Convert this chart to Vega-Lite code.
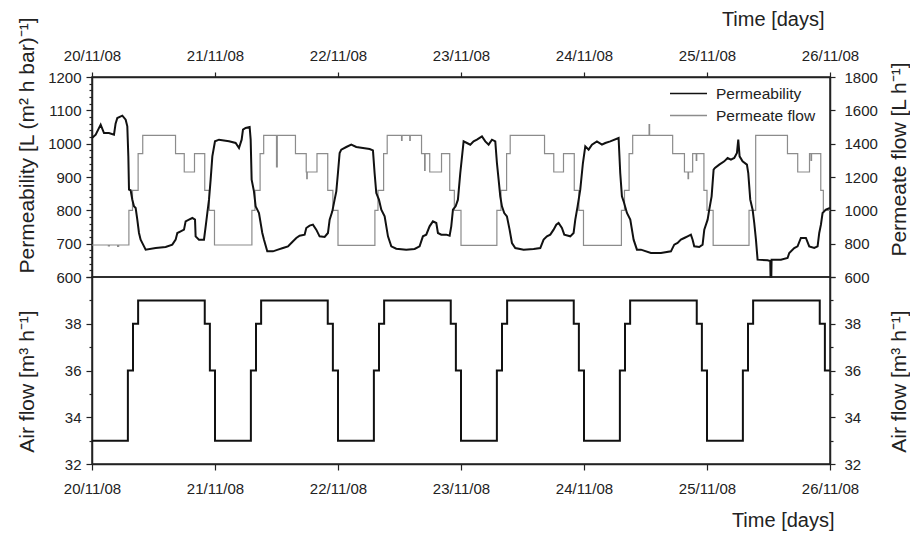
{
  "$schema": "https://vega.github.io/schema/vega-lite/v6.json",
  "background": "white",
  "padding": {"left": 15, "top": 8, "right": 0, "bottom": 0},
  "spacing": 0,
  "bounds": "flush",
  "config": {
    "font": "Liberation Sans",
    "view": {"stroke": "#222", "strokeWidth": 1.5},
    "axis": {
      "labelFont": "Liberation Sans", "labelFontSize": 15, "labelColor": "#222",
      "titleFont": "Liberation Sans", "titleFontSize": 20, "titleFontWeight": "normal", "titleColor": "#222",
      "domainColor": "#222", "domainWidth": 1.5, "tickColor": "#222", "tickWidth": 1.2,
      "grid": false, "labelOverlap": false, "labelFlush": false
    }
  },
  "datasets": {
    "perm": [
      {"h":0,"v":1017},{"h":0.72,"v":1027},{"h":1.69,"v":1057},{"h":2.34,"v":1032},{"h":3.3,"v":1032},{"h":4.29,"v":1027},{"h":4.6,"v":1060},{"h":4.94,"v":1077},{"h":5.92,"v":1084},{"h":6.57,"v":1072},{"h":6.89,"v":1052},{"h":7.09,"v":962},{"h":7.22,"v":862},{"h":7.54,"v":860},{"h":7.87,"v":832},{"h":8.19,"v":812},{"h":8.52,"v":807},{"h":8.84,"v":772},{"h":9.17,"v":732},{"h":9.49,"v":712},{"h":10.15,"v":692},{"h":10.47,"v":682},{"h":12.42,"v":687},{"h":14.37,"v":690},{"h":15.67,"v":697},{"h":16.32,"v":712},{"h":16.65,"v":732},{"h":17.3,"v":737},{"h":17.95,"v":742},{"h":18.27,"v":767},{"h":18.92,"v":772},{"h":19.58,"v":777},{"h":20.1,"v":772},{"h":20.22,"v":722},{"h":20.87,"v":712},{"h":21.85,"v":712},{"h":22.18,"v":752},{"h":22.5,"v":792},{"h":22.83,"v":832},{"h":23.15,"v":892},{"h":23.48,"v":962},{"h":24.0,"v":1007},{"h":24.78,"v":1012},{"h":26.73,"v":1007},{"h":28.03,"v":1002},{"h":28.68,"v":987},{"h":29.2,"v":1012},{"h":29.46,"v":1042},{"h":29.98,"v":1047},{"h":30.76,"v":1050},{"h":30.96,"v":1012},{"h":31.15,"v":892},{"h":31.6,"v":857},{"h":31.93,"v":812},{"h":32.25,"v":802},{"h":32.58,"v":792},{"h":33.23,"v":732},{"h":33.56,"v":712},{"h":34.2,"v":677},
      {"h":35.31,"v":677},{"h":36.29,"v":682},{"h":37.26,"v":687},{"h":38.24,"v":692},{"h":38.89,"v":702},{"h":39.86,"v":717},{"h":40.51,"v":724},{"h":41.49,"v":727},{"h":41.81,"v":747},{"h":42.46,"v":754},{"h":43.11,"v":757},{"h":43.76,"v":742},{"h":44.41,"v":722},{"h":45.39,"v":720},{"h":46.04,"v":732},{"h":46.37,"v":772},{"h":46.89,"v":797},{"h":47.34,"v":832},{"h":47.67,"v":857},{"h":47.99,"v":912},{"h":48.32,"v":972},{"h":48.64,"v":982},{"h":49.62,"v":990},{"h":50.59,"v":997},{"h":51.57,"v":990},{"h":52.87,"v":987},{"h":54.17,"v":984},{"h":54.82,"v":980},{"h":55.14,"v":912},{"h":55.47,"v":852},{"h":55.99,"v":832},{"h":56.45,"v":802},{"h":57.1,"v":782},{"h":57.75,"v":722},{"h":58.4,"v":692},{"h":59.37,"v":685},{"h":61.32,"v":682},{"h":62.95,"v":684},{"h":63.92,"v":692},{"h":64.57,"v":722},{"h":65.22,"v":727},{"h":65.87,"v":752},{"h":66.52,"v":767},{"h":67.18,"v":762},{"h":67.5,"v":732},{"h":68.15,"v":727},{"h":69.13,"v":727},{"h":69.78,"v":724},{"h":70.1,"v":752},{"h":70.43,"v":802},{"h":70.95,"v":812},{"h":71.4,"v":832},
      {"h":71.86,"v":912},{"h":72.51,"v":1007},{"h":73.16,"v":1002},{"h":73.81,"v":997},{"h":74.46,"v":1007},{"h":75.11,"v":1012},{"h":76.09,"v":1022},{"h":76.74,"v":1007},{"h":77.39,"v":997},{"h":78.04,"v":1012},{"h":78.69,"v":1007},{"h":79.01,"v":942},{"h":79.34,"v":892},{"h":79.66,"v":842},{"h":79.99,"v":812},{"h":80.44,"v":792},{"h":80.96,"v":782},{"h":81.48,"v":742},{"h":81.94,"v":702},{"h":82.59,"v":687},{"h":84.22,"v":682},{"h":86.17,"v":684},{"h":87.47,"v":687},{"h":88.12,"v":712},{"h":88.77,"v":722},{"h":89.42,"v":727},{"h":90.07,"v":742},{"h":90.59,"v":757},{"h":91.04,"v":762},{"h":91.69,"v":747},{"h":92.15,"v":727},{"h":93.32,"v":722},{"h":93.97,"v":732},{"h":94.3,"v":772},{"h":94.75,"v":812},{"h":95.27,"v":862},{"h":95.79,"v":942},{"h":96.25,"v":992},{"h":96.9,"v":982},{"h":97.55,"v":997},{"h":98.52,"v":1007},{"h":99.5,"v":997},{"h":100.15,"v":1002},{"h":101.12,"v":1007},{"h":102.75,"v":1017},{"h":103.07,"v":912},{"h":103.4,"v":842},{"h":103.73,"v":827},{"h":104.38,"v":792},{"h":105.03,"v":772},{"h":105.68,"v":712},{"h":106.33,"v":682},
      {"h":107.11,"v":682},{"h":109.06,"v":672},{"h":111.01,"v":672},{"h":112.96,"v":677},{"h":113.61,"v":697},{"h":114.26,"v":702},{"h":114.91,"v":712},{"h":115.56,"v":717},{"h":116.21,"v":722},{"h":116.86,"v":727},{"h":117.19,"v":712},{"h":117.51,"v":692},{"h":118.49,"v":690},{"h":119.14,"v":697},{"h":119.47,"v":742},{"h":120.12,"v":772},{"h":120.44,"v":802},{"h":120.9,"v":842},{"h":121.29,"v":922},{"h":121.55,"v":927},{"h":122.39,"v":937},{"h":123.37,"v":947},{"h":124.02,"v":957},{"h":124.67,"v":952},{"h":125.32,"v":957},{"h":125.84,"v":972},{"h":126.1,"v":1012},{"h":126.36,"v":962},{"h":126.94,"v":947},{"h":127.79,"v":937},{"h":128.05,"v":912},{"h":128.44,"v":832},{"h":128.9,"v":802},{"h":129.22,"v":762},{"h":129.55,"v":712},{"h":129.87,"v":652},{"h":131.82,"v":650},{"h":132.34,"v":648},{"h":132.4,"v":600},{"h":132.55,"v":600},{"h":132.6,"v":652},{"h":134.42,"v":652},{"h":135.72,"v":657},{"h":136.05,"v":672},{"h":137.02,"v":687},{"h":137.67,"v":692},{"h":138.32,"v":717},{"h":139.3,"v":717},{"h":139.95,"v":692},{"h":140.93,"v":687},{"h":141.58,"v":692},{"h":141.9,"v":732},{"h":142.23,"v":757},{"h":142.55,"v":792},{"h":143.2,"v":802},{"h":144,"v":807}
    ],
    "flow": [
      {"h":0,"v":792},{"h":3.2,"v":786},{"h":3.4,"v":792},{"h":5.0,"v":784},{"h":5.2,"v":792},{"h":7.2,"v":1000},{"h":7.9,"v":1120},{"h":9.0,"v":1340},{"h":9.9,"v":1450},{"h":16.3,"v":1340},{"h":18.0,"v":1230},{"h":20.0,"v":1340},{"h":22.0,"v":1120},{"h":22.9,"v":1000},{"h":23.9,"v":792},
      {"h":31.2,"v":1000},{"h":31.8,"v":1120},{"h":32.8,"v":1340},{"h":33.5,"v":1450},{"h":36.0,"v":1260},{"h":36.15,"v":1450},{"h":39.7,"v":1340},{"h":41.8,"v":1230},{"h":41.9,"v":1190},{"h":42.0,"v":1230},{"h":43.9,"v":1340},{"h":46.0,"v":1120},{"h":47.0,"v":1000},{"h":48.0,"v":790},
      {"h":55.2,"v":1000},{"h":55.8,"v":1120},{"h":56.9,"v":1340},{"h":57.6,"v":1450},{"h":60.4,"v":1420},{"h":60.5,"v":1450},{"h":62.0,"v":1420},{"h":62.1,"v":1450},{"h":64.3,"v":1340},{"h":64.9,"v":1240},{"h":65.0,"v":1340},{"h":65.9,"v":1230},{"h":68.2,"v":1340},{"h":69.8,"v":1120},{"h":70.7,"v":1000},{"h":72.0,"v":790},
      {"h":79.0,"v":1000},{"h":79.8,"v":1120},{"h":80.9,"v":1340},{"h":81.6,"v":1450},{"h":88.3,"v":1340},{"h":90.1,"v":1230},{"h":92.0,"v":1340},{"h":94.1,"v":1120},{"h":95.0,"v":1000},{"h":95.9,"v":790},
      {"h":103.3,"v":1000},{"h":103.9,"v":1120},{"h":104.8,"v":1340},{"h":105.5,"v":1450},{"h":108.7,"v":1515},{"h":108.8,"v":1450},{"h":113.3,"v":1340},{"h":115.6,"v":1230},{"h":116.3,"v":1190},{"h":116.4,"v":1230},{"h":117.2,"v":1340},{"h":117.9,"v":1300},{"h":118.0,"v":1340},{"h":119.4,"v":1120},{"h":120.0,"v":1000},{"h":121.2,"v":790},
      {"h":128.2,"v":1000},{"h":129.5,"v":1450},{"h":135.7,"v":1340},{"h":137.7,"v":1230},{"h":140.0,"v":1340},{"h":140.3,"v":1300},{"h":140.4,"v":1340},{"h":142.2,"v":1120},{"h":142.7,"v":1000},{"h":144,"v":1000}
    ],
    "air": [
      {"h":0,"v":33},{"h":7,"v":36},{"h":8,"v":38},{"h":9,"v":39},{"h":22,"v":38},{"h":23,"v":36},
      {"h":24,"v":33},{"h":31,"v":36},{"h":32,"v":38},{"h":33,"v":39},{"h":46,"v":38},{"h":47,"v":36},
      {"h":48,"v":33},{"h":55,"v":36},{"h":56,"v":38},{"h":57,"v":39},{"h":70,"v":38},{"h":71,"v":36},
      {"h":72,"v":33},{"h":79,"v":36},{"h":80,"v":38},{"h":81,"v":39},{"h":94,"v":38},{"h":95,"v":36},
      {"h":96,"v":33},{"h":103,"v":36},{"h":104,"v":38},{"h":105,"v":39},{"h":118,"v":38},{"h":119,"v":36},
      {"h":120,"v":33},{"h":127,"v":36},{"h":128,"v":38},{"h":129,"v":39},{"h":142,"v":38},{"h":143,"v":36},
      {"h":144,"v":36}
    ]
  },
  "vconcat": [
    {
      "width": 738,
      "height": 200,
      "encoding": {
        "x": {
          "field": "h", "type": "quantitative",
          "scale": {"domain": [0, 144], "nice": false, "zero": false},
          "axis": {
            "orient": "top",
            "values": [0, 24, 48, 72, 96, 120, 144],
            "labelExpr": "['20/11/08','21/11/08','22/11/08','23/11/08','24/11/08','25/11/08','26/11/08'][round(datum.value/24)]",
            "tickSize": 5, "labelPadding": 9,
            "title": "Time [days]",
            "titleX": 732, "titleY": -52, "titleAlign": "right", "titleBaseline": "alphabetic"
          }
        }
      },
      "layer": [
        {
          "data": {"name": "flow"},
          "mark": {"type": "line", "strokeWidth": 1.2, "interpolate": "step-after"},
          "encoding": {
            "y": {
              "field": "v", "type": "quantitative",
              "scale": {"domain": [600, 1800], "nice": false, "zero": false},
              "axis": {
                "orient": "right", "format": "d",
                "values": [600, 800, 1000, 1200, 1400, 1600, 1800],
                "tickSize": 5, "labelPadding": 9,
                "title": "Permeate flow  [L h\u207b\u00b9]", "titleFontSize": 21,
                "titleAngle": -90, "titleX": 79, "titleY": 82, "titleAlign": "center", "titleBaseline": "bottom"
              }
            },
            "color": {"datum": "Permeate flow", "type": "nominal"}
          }
        },
        {
          "data": {"name": "perm"},
          "mark": {"type": "line", "strokeWidth": 2, "interpolate": "linear"},
          "encoding": {
            "y": {
              "field": "v", "type": "quantitative",
              "scale": {"domain": [600, 1200], "nice": false, "zero": false},
              "axis": {
                "orient": "left", "format": "d",
                "values": [600,620,640,660,680,700,720,740,760,780,800,820,840,860,880,900,920,940,960,980,1000,1020,1040,1060,1080,1100,1120,1140,1160,1180,1200],
                "labelExpr": "datum.value % 100 === 0 ? datum.label : ''",
                "tickSize": {"condition": {"test": "datum.value % 100 === 0", "value": 6}, "value": 3},
                "labelPadding": 5,
                "title": "Permeability  [L (m\u00b2 h bar)\u207b\u00b9]", "titleFontSize": 21,
                "titleAngle": -90, "titleX": -55, "titleY": 68, "titleAlign": "center", "titleBaseline": "bottom"
              }
            },
            "color": {
              "datum": "Permeability", "type": "nominal",
              "scale": {"domain": ["Permeability", "Permeate flow"], "range": ["#111111", "#8c8c8c"]},
              "legend": {
                "orient": "none", "legendX": 586, "legendY": 6, "title": null,
                "symbolType": "M-2,0H2", "symbolSize": 342, "symbolStrokeWidth": 1.6,
                "labelFont": "Liberation Sans", "labelFontSize": 15.5, "labelColor": "#222",
                "labelOffset": 17, "rowPadding": 3
              }
            }
          }
        }
      ],
      "resolve": {"scale": {"y": "independent"}}
    },
    {
      "width": 738,
      "height": 187,
      "data": {"name": "air"},
      "encoding": {
        "x": {
          "field": "h", "type": "quantitative",
          "scale": {"domain": [0, 144], "nice": false, "zero": false},
          "axis": {
            "orient": "bottom",
            "values": [0, 24, 48, 72, 96, 120, 144],
            "labelExpr": "['20/11/08','21/11/08','22/11/08','23/11/08','24/11/08','25/11/08','26/11/08'][round(datum.value/24)]",
            "tickSize": 6, "labelPadding": 11,
            "title": "Time [days]",
            "titleX": 742, "titleY": 62, "titleAlign": "right", "titleBaseline": "alphabetic"
          }
        }
      },
      "layer": [
        {
          "mark": {"type": "line", "strokeWidth": 2, "color": "#111", "interpolate": "step-after"},
          "encoding": {
            "y": {
              "field": "v", "type": "quantitative",
              "scale": {"domain": [32, 40], "nice": false, "zero": false},
              "axis": {
                "orient": "left", "format": "d",
                "values": [32,32.25,32.5,32.75,33,33.25,33.5,33.75,34,34.25,34.5,34.75,35,35.25,35.5,35.75,36,36.25,36.5,36.75,37,37.25,37.5,37.75,38,38.25,38.5,38.75,39,39.25,39.5,39.75,40],
                "labelExpr": "datum.value % 2 === 0 && datum.value < 40 ? datum.label : ''",
                "tickSize": {"condition": {"test": "datum.value % 2 === 0", "value": 6}, "value": 3},
                "labelPadding": 5,
                "title": "Air flow  [m\u00b3 h\u207b\u00b9]", "titleFontSize": 21,
                "titleAngle": -90, "titleX": -55, "titleY": 104, "titleAlign": "center", "titleBaseline": "bottom"
              }
            }
          }
        },
        {
          "mark": {"type": "line", "strokeWidth": 2, "color": "#111", "strokeOpacity": 0, "interpolate": "step-after"},
          "encoding": {
            "y": {
              "field": "v", "type": "quantitative",
              "scale": {"domain": [32, 40], "nice": false, "zero": false},
              "axis": {
                "orient": "right", "format": "d",
                "values": [32,32.25,32.5,32.75,33,33.25,33.5,33.75,34,34.25,34.5,34.75,35,35.25,35.5,35.75,36,36.25,36.5,36.75,37,37.25,37.5,37.75,38,38.25,38.5,38.75,39,39.25,39.5,39.75,40],
                "labelExpr": "datum.value % 2 === 0 && datum.value < 40 ? datum.label : ''",
                "tickSize": {"condition": {"test": "datum.value % 2 === 0", "value": 5}, "value": 3},
                "labelPadding": 9,
                "title": "Air flow  [m\u00b3 h\u207b\u00b9]", "titleFontSize": 21,
                "titleAngle": -90, "titleX": 79, "titleY": 104, "titleAlign": "center", "titleBaseline": "bottom"
              }
            }
          }
        }
      ],
      "resolve": {"scale": {"y": "independent"}}
    }
  ],
  "resolve": {"scale": {"color": "independent"}, "legend": {"color": "independent"}}
}
